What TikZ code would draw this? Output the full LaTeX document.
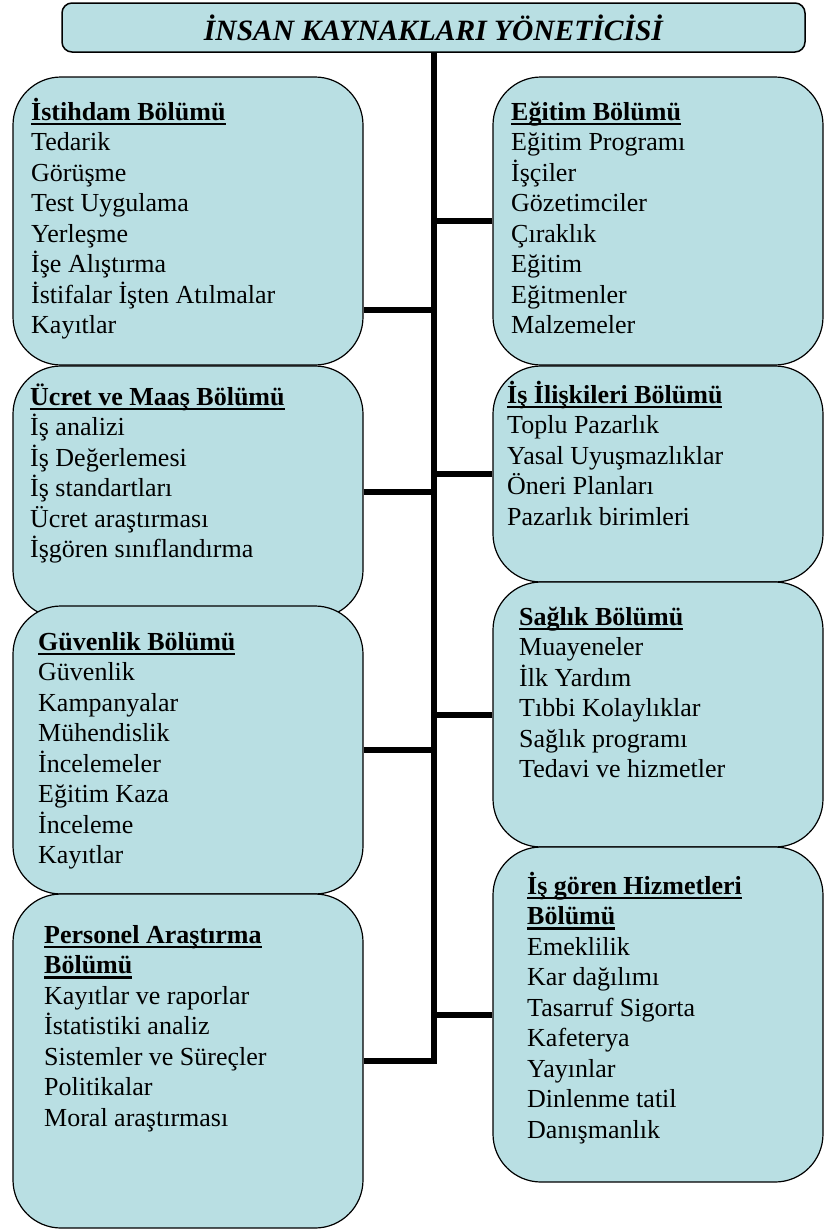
\documentclass[tikz,border=0pt]{standalone}
\usepackage{fontspec}
\setmainfont{Liberation Serif}
\definecolor{kutu}{RGB}{185,223,227}
\newsavebox\baslbox
\newcommand{\basl}[1]{\sbox\baslbox{\bfseries #1}\rlap{\rule[-5pt]{\wd\baslbox}{2.2pt}}\usebox\baslbox}
\tikzset{dept/.style = {draw, fill = kutu, line width = 1.2pt, rounded corners = 48pt, inner sep = 0},
  baslik/.style = {draw, fill = kutu, line width = 1.5pt, rounded corners = 10pt, inner sep = 0},
  yazi/.style = {anchor = base west, inner sep = 0, font = \fontsize{26}{30.5}\selectfont},
  kol/.style = {line width = 6pt}}

\begin{document}
\begin{tikzpicture}[x = 1pt, y = -1pt]
      \useasboundingbox (0, 0) rectangle (825, 1229);

      \node [baslik, minimum width = 743pt, minimum height = 49pt] (yonetici) at (433.5, 27.5)
        {\fontsize{29.5}{32}\selectfont\bfseries\itshape İNSAN KAYNAKLARI YÖNETİCİSİ};

      \node [dept, minimum width = 350pt, minimum height = 288pt] (istihdam) at (188, 221) {};
      \node [dept, minimum width = 350pt, minimum height = 252pt] (ucret) at (188, 492) {};
      \node [dept, minimum width = 350pt, minimum height = 288pt] (guvenlik) at (188, 750) {};
      \node [dept, minimum width = 350pt, minimum height = 334pt] (personel) at (188, 1061) {};

      \node [dept, minimum width = 330pt, minimum height = 288pt] (egitim) at (658, 221) {};
      \node [dept, minimum width = 330pt, minimum height = 216pt] (iliski) at (658, 474) {};
      \node [dept, minimum width = 330pt, minimum height = 265pt] (saglik) at (658, 714.5) {};
      \node [dept, minimum width = 330pt, minimum height = 335pt] (isgoren) at (658, 1014.5) {};

      \node [yazi] (istihdamyazi) at (31, 120) {\begin{tabular}[t]{@{}l@{}}\basl{İstihdam Bölümü}\\ Tedarik\\ Görüşme\\ Test Uygulama\\ Yerleşme\\ İşe Alıştırma\\ İstifalar İşten Atılmalar\\ Kayıtlar\end{tabular}};
      \node [yazi] (ucretyazi) at (30, 405) {\begin{tabular}[t]{@{}l@{}}\basl{Ücret ve Maaş Bölümü}\\ İş analizi\\ İş Değerlemesi\\ İş standartları\\ Ücret araştırması\\ İşgören sınıflandırma\end{tabular}};
      \node [yazi] (guvenlikyazi) at (38, 650) {\begin{tabular}[t]{@{}l@{}}\basl{Güvenlik Bölümü}\\ Güvenlik\\ Kampanyalar\\ Mühendislik\\ İncelemeler\\ Eğitim Kaza\\ İnceleme\\ Kayıtlar\end{tabular}};
      \node [yazi] (personelyazi) at (44, 943) {\begin{tabular}[t]{@{}l@{}}\basl{Personel Araştırma}\\ \basl{Bölümü}\\ Kayıtlar ve raporlar\\ İstatistiki analiz\\ Sistemler ve Süreçler\\ Politikalar\\ Moral araştırması\end{tabular}};

      \node [yazi] (egitimyazi) at (511, 120) {\begin{tabular}[t]{@{}l@{}}\basl{Eğitim Bölümü}\\ Eğitim Programı\\ İşçiler\\ Gözetimciler\\ Çıraklık\\ Eğitim\\ Eğitmenler\\ Malzemeler\end{tabular}};
      \node [yazi] (iliskiyazi) at (507, 403) {\begin{tabular}[t]{@{}l@{}}\basl{İş İlişkileri Bölümü}\\ Toplu Pazarlık\\ Yasal Uyuşmazlıklar\\ Öneri Planları\\ Pazarlık birimleri\end{tabular}};
      \node [yazi] (saglikyazi) at (519, 625) {\begin{tabular}[t]{@{}l@{}}\basl{Sağlık Bölümü}\\ Muayeneler\\ İlk Yardım\\ Tıbbi Kolaylıklar\\ Sağlık programı\\ Tedavi ve hizmetler\end{tabular}};
      \node [yazi] (isgorenyazi) at (527, 894) {\begin{tabular}[t]{@{}l@{}}\basl{İş gören Hizmetleri}\\ \basl{Bölümü}\\ Emeklilik\\ Kar dağılımı\\ Tasarruf Sigorta\\ Kafeterya\\ Yayınlar\\ Dinlenme tatil\\ Danışmanlık\end{tabular}};

      \coordinate (k1) at (433.5, 310);

      \draw [kol] (yonetici.south) |- (personel.east);
      \draw [kol] (k1) -- (istihdam.east |- k1);
      \draw [kol] (ucret.east) -- (ucret.east -| yonetici.south);
      \draw [kol] (guvenlik.east) -- (guvenlik.east -| yonetici.south);
      \draw [kol] (egitim.west) -- (egitim.west -| yonetici.south);
      \draw [kol] (iliski.west) -- (iliski.west -| yonetici.south);
      \draw [kol] (saglik.west) -- (saglik.west -| yonetici.south);
      \draw [kol] (isgoren.west) -- (isgoren.west -| yonetici.south);
    \end{tikzpicture}
\end{document}
